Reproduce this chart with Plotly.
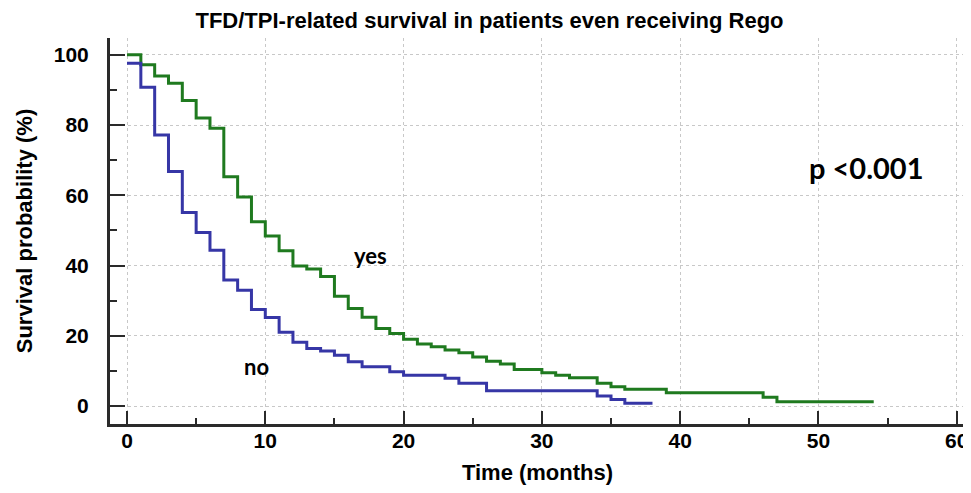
import plotly.graph_objects as go

# Kaplan-Meier step data (months, survival %)
yes_time = [0, 1, 2, 3, 4, 5, 6, 7, 8, 9, 10, 11, 12, 13, 14, 15, 16, 17, 18, 19, 20,
            21, 22, 23, 24, 25, 26, 27, 28, 30, 31, 32, 34, 35, 36, 39, 46, 47, 54]
yes_surv = [100, 97.2, 94.0, 91.9, 87.0, 82.0, 79.1, 65.3, 59.5, 52.5, 48.4, 44.2, 39.9,
            39.0, 36.9, 31.3, 27.8, 25.3, 22.1, 20.7, 19.0, 17.7, 16.9, 16.0, 15.2, 14.0,
            12.8, 12.0, 10.4, 9.5, 8.8, 8.1, 6.5, 5.5, 4.8, 3.8, 2.5, 1.2, 1.2]

no_time = [0, 1, 2, 3, 4, 5, 6, 7, 8, 9, 10, 11, 12, 13, 14, 15, 16, 17, 19, 20,
           23, 24, 26, 34, 35, 36, 38]
no_surv = [97.6, 90.8, 77.2, 66.8, 55.1, 49.4, 44.4, 35.9, 33.0, 27.5, 25.2, 21.0,
           18.2, 16.4, 15.7, 14.5, 12.6, 11.2, 9.8, 8.8, 7.9, 6.5, 4.4, 2.9, 1.9, 0.8, 0.8]

x_ticks = [0, 10, 20, 30, 40, 50, 60]
y_ticks = [0, 20, 40, 60, 80, 100]

axis_font = "Liberation Sans, Arial, sans-serif"
label_font = "Lato, Open Sans, Arial"

# page body has an 8px margin, so the figure is sized to fit the 971x493 window
W, H = 963, 485

fig = go.Figure()
fig.add_trace(go.Scatter(x=yes_time, y=yes_surv, mode="lines", line_shape="hv",
                         line=dict(color="#1f7a1f", width=3), name="yes"))
fig.add_trace(go.Scatter(x=no_time, y=no_surv, mode="lines", line_shape="hv",
                         line=dict(color="#3636a6", width=3), name="no"))

fig.add_annotation(x=17.6, y=43, xref="x", yref="y", text="<b>yes</b>", showarrow=False,
                   font=dict(family=label_font, size=22, color="black"))
fig.add_annotation(x=9.4, y=11.2, xref="x", yref="y", text="<b>no</b>", showarrow=False,
                   font=dict(family=label_font, size=22, color="black"))
fig.add_annotation(x=53.5, y=67.8, xref="x", yref="y", text="<b>p <0.001</b>", showarrow=False,
                   font=dict(family=label_font, size=29, color="black"))

fig.update_layout(
    width=W, height=H,
    margin=dict(l=102, r=6, t=30, b=69),
    paper_bgcolor="white", plot_bgcolor="white",
    showlegend=False,
    title=dict(text="<b>TFD/TPI-related survival in patients even receiving Rego</b>",
               x=0.5, xanchor="center", y=1 - 12 / H, yanchor="middle",
               font=dict(family=axis_font, size=22, color="black")),
    font=dict(family=axis_font, color="black"),
)
fig.update_xaxes(
    range=[-1.23, 60.6], tickvals=x_ticks, ticktext=[f"<b>{v}</b>" for v in x_ticks],
    showline=True, linecolor="#2a2a2a", linewidth=3, automargin=False,
    ticks="inside", ticklen=13, tickwidth=2, tickcolor="#2a2a2a",
    minor=dict(ticks="inside", ticklen=6, tickwidth=2, tickcolor="#2a2a2a", dtick=5, tick0=0, showgrid=False),
    showgrid=True, gridcolor="#c8c8c8", griddash="dot", gridwidth=1, zeroline=False,
    tickfont=dict(family=axis_font, size=21, color="black"), ticklabelstandoff=-4,
    ticklabeloverflow="allow",
    title=dict(text="<b>Time (months)</b>", font=dict(family=axis_font, size=22, color="black"), standoff=14),
)
fig.update_yaxes(
    range=[-5.1, 104.8], tickvals=y_ticks, ticktext=[f"<b>{v}</b>" for v in y_ticks],
    showline=True, linecolor="#2a2a2a", linewidth=3, automargin=False,
    ticks="inside", ticklen=15, tickwidth=2, tickcolor="#2a2a2a",
    minor=dict(ticks="inside", ticklen=7, tickwidth=2, tickcolor="#2a2a2a", dtick=10, tick0=0, showgrid=False),
    showgrid=True, gridcolor="#c8c8c8", griddash="dot", gridwidth=1, zeroline=False,
    tickfont=dict(family=axis_font, size=21, color="black"), ticklabelstandoff=14,
    title=dict(text="<b>Survival probability (%)</b>", font=dict(family=axis_font, size=22, color="black"), standoff=16),
)

fig.write_html("out.html")
